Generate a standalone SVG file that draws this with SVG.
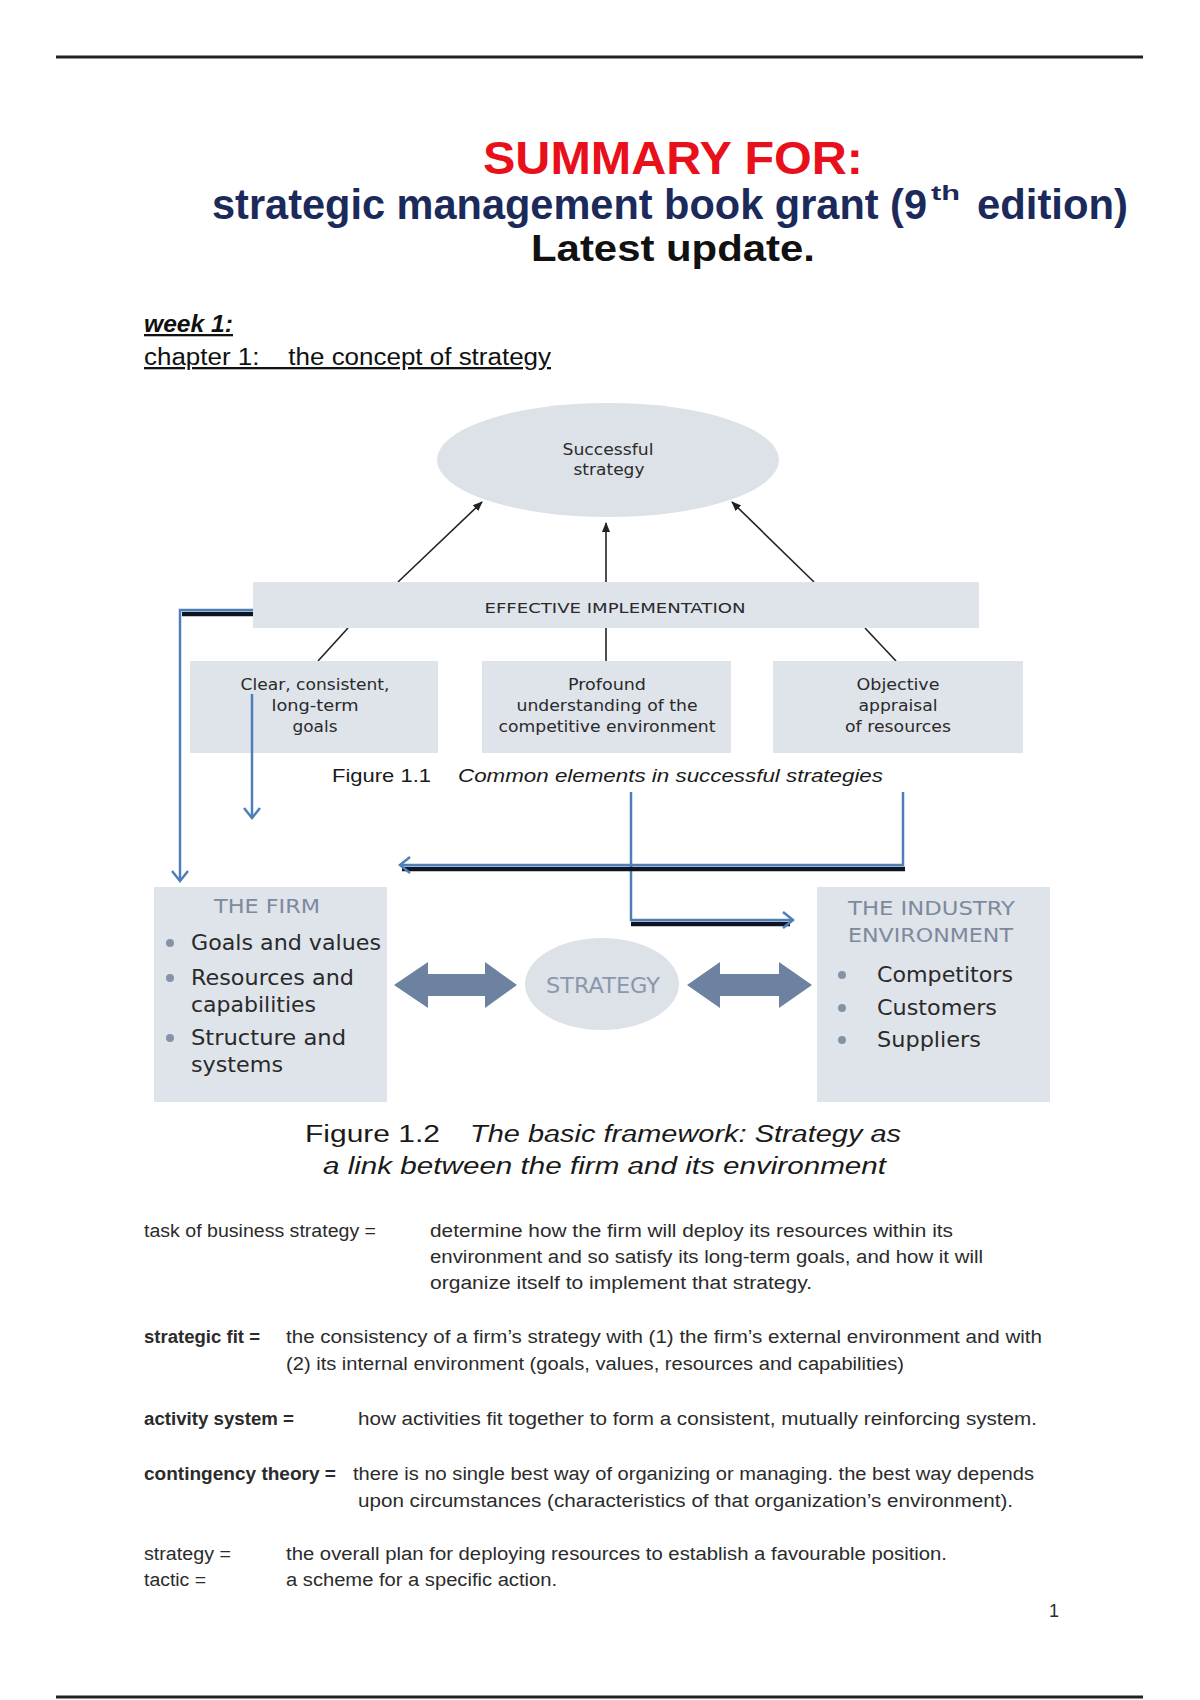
<svg xmlns="http://www.w3.org/2000/svg" width="1200" height="1700" viewBox="0 0 1200 1700">
<defs>
<style>
.hdr{font-family:"Liberation Sans",Arial,sans-serif;font-weight:bold}
.fig{font-family:"DejaVu Sans",Verdana,sans-serif;fill:#2a2a2a}
.cap{font-family:"Liberation Sans",Arial,sans-serif;fill:#1a1a1a}
.body{font-family:"Liberation Sans",Arial,sans-serif;font-size:18px;fill:#2b2b2b}
.box{fill:#dfe3ea}
.blk{stroke:#222;stroke-width:1.6;fill:none}
.blue{stroke:#4f7fb8;stroke-width:2.5;fill:none}
.dark{stroke:#0e1424;stroke-width:4.5;fill:none}
.dbl{fill:#6c82a0}
.bul{fill:#8593a8}
.gry{fill:#7d8a9d}
</style>
<marker id="ah" viewBox="0 0 10 10" refX="9" refY="5" markerWidth="10" markerHeight="10" markerUnits="userSpaceOnUse" orient="auto">
<path d="M0,1 L10,5 L0,9 Z" fill="#222"/>
</marker>
<marker id="va" viewBox="-12 -10 14 20" refX="0" refY="0" markerWidth="14" markerHeight="20" markerUnits="userSpaceOnUse" orient="auto">
<path d="M-10,-8 L0,0 L-10,8" fill="none" stroke="#4f7fb8" stroke-width="2.5"/>
</marker>
</defs>
<rect width="1200" height="1700" fill="#ffffff"/>
<line x1="56" y1="57" x2="1143" y2="57" stroke="#222" stroke-width="3"/>
<line x1="56" y1="1697" x2="1143" y2="1697" stroke="#222" stroke-width="3"/>

<g id="header">
<text class="hdr" x="673" y="174" font-size="46" fill="#e8101a" text-anchor="middle" textLength="380" lengthAdjust="spacingAndGlyphs">SUMMARY FOR:</text>
<text class="hdr" font-size="42" fill="#1b2a5a"><tspan x="212" y="219" textLength="715" lengthAdjust="spacingAndGlyphs">strategic management book grant (9</tspan><tspan x="931" y="200" font-size="20" textLength="29" lengthAdjust="spacingAndGlyphs">th</tspan><tspan x="977" y="219" textLength="151" lengthAdjust="spacingAndGlyphs">edition)</tspan></text>
<text class="hdr" x="673" y="261" font-size="37" fill="#111" text-anchor="middle" textLength="284" lengthAdjust="spacingAndGlyphs">Latest update.</text>
<text x="144" y="332" font-family="Liberation Sans, Arial, sans-serif" font-size="23" font-weight="bold" font-style="italic" fill="#111" text-decoration="underline" textLength="89" lengthAdjust="spacingAndGlyphs">week 1:</text>
<text x="144" y="365" font-family="Liberation Sans, Arial, sans-serif" font-size="23" fill="#111" text-decoration="underline" textLength="407" lengthAdjust="spacingAndGlyphs" xml:space="preserve">chapter 1:    the concept of strategy</text>
</g>

<g id="connectors">
<line class="blk" x1="398" y1="582" x2="482" y2="502" marker-end="url(#ah)"/>
<line class="blk" x1="606" y1="582" x2="606" y2="523" marker-end="url(#ah)"/>
<line class="blk" x1="814" y1="582" x2="732" y2="502" marker-end="url(#ah)"/>
<line class="blk" x1="348" y1="628" x2="318" y2="661"/>
<line class="blk" x1="606" y1="628" x2="606" y2="661"/>
<line class="blk" x1="865" y1="628" x2="896" y2="661"/>
</g>

<g id="successful-strategy">
<ellipse cx="608" cy="460" rx="171" ry="57" fill="#dde1e8"/>
<text class="fig" x="608" y="455" font-size="15" text-anchor="middle" textLength="91" lengthAdjust="spacingAndGlyphs">Successful</text>
<text class="fig" x="609" y="475" font-size="15" text-anchor="middle" textLength="71" lengthAdjust="spacingAndGlyphs">strategy</text>
</g>

<g id="effective-implementation">
<rect class="box" x="253" y="582" width="726" height="46"/>
<text class="fig" x="615" y="613" font-size="14" text-anchor="middle" textLength="261" lengthAdjust="spacingAndGlyphs">EFFECTIVE IMPLEMENTATION</text>
</g>

<g id="goals">
<rect class="box" x="190" y="661" width="248" height="92"/>
<text class="fig" x="315" y="690" font-size="15.5" text-anchor="middle" textLength="149" lengthAdjust="spacingAndGlyphs">Clear, consistent,</text>
<text class="fig" x="315" y="711" font-size="15.5" text-anchor="middle" textLength="87" lengthAdjust="spacingAndGlyphs">long-term</text>
<text class="fig" x="315" y="732" font-size="15.5" text-anchor="middle" textLength="45" lengthAdjust="spacingAndGlyphs">goals</text>
</g>

<g id="understanding">
<rect class="box" x="482" y="661" width="249" height="92"/>
<text class="fig" x="607" y="690" font-size="15.5" text-anchor="middle" textLength="78" lengthAdjust="spacingAndGlyphs">Profound</text>
<text class="fig" x="607" y="711" font-size="15.5" text-anchor="middle" textLength="181" lengthAdjust="spacingAndGlyphs">understanding of the</text>
<text class="fig" x="607" y="732" font-size="15.5" text-anchor="middle" textLength="217" lengthAdjust="spacingAndGlyphs">competitive environment</text>
</g>

<g id="appraisal">
<rect class="box" x="773" y="661" width="250" height="92"/>
<text class="fig" x="898" y="690" font-size="15.5" text-anchor="middle" textLength="83" lengthAdjust="spacingAndGlyphs">Objective</text>
<text class="fig" x="898" y="711" font-size="15.5" text-anchor="middle" textLength="79" lengthAdjust="spacingAndGlyphs">appraisal</text>
<text class="fig" x="898" y="732" font-size="15.5" text-anchor="middle" textLength="106" lengthAdjust="spacingAndGlyphs">of resources</text>
</g>

<g id="figure-1-1-caption">
<text class="cap" x="332" y="782" font-size="18.5" textLength="99" lengthAdjust="spacingAndGlyphs">Figure 1.1</text>
<text class="cap" x="458" y="782" font-size="18.5" font-style="italic" textLength="425" lengthAdjust="spacingAndGlyphs">Common elements in successful strategies</text>
</g>

<g id="blue-connectors">
<path class="dark" d="M182,614 H253"/>
<path class="blue" d="M253,610 H180 V881" marker-end="url(#va)"/>
<path class="blue" d="M252,694 V818" marker-end="url(#va)"/>
<path class="dark" d="M631,924 H790"/>
<path class="blue" d="M631,792 V920 H793" marker-end="url(#va)"/>
<path class="dark" d="M402,869 H905"/>
<path class="blue" d="M903,792 V865 H400" marker-end="url(#va)"/>
</g>

<g id="the-firm">
<rect class="box" x="154" y="887" width="233" height="215"/>
<text class="fig gry" x="267" y="913" font-size="20" text-anchor="middle" textLength="106" lengthAdjust="spacingAndGlyphs">THE FIRM</text>
<circle class="bul" cx="170" cy="943" r="4"/>
<text class="fig" x="191" y="950" font-size="20.5" textLength="190" lengthAdjust="spacingAndGlyphs">Goals and values</text>
<circle class="bul" cx="170" cy="978" r="4"/>
<text class="fig" x="191" y="985" font-size="20.5" textLength="163" lengthAdjust="spacingAndGlyphs">Resources and</text>
<text class="fig" x="191" y="1012" font-size="20.5" textLength="125" lengthAdjust="spacingAndGlyphs">capabilities</text>
<circle class="bul" cx="170" cy="1038" r="4"/>
<text class="fig" x="191" y="1045" font-size="20.5" textLength="155" lengthAdjust="spacingAndGlyphs">Structure and</text>
<text class="fig" x="191" y="1072" font-size="20.5" textLength="92" lengthAdjust="spacingAndGlyphs">systems</text>
</g>

<g id="strategy">
<ellipse cx="602" cy="984" rx="77" ry="46" fill="#dde1e8"/>
<text class="fig" x="603" y="993" font-size="21" style="fill:#8a98ad" text-anchor="middle" textLength="114" lengthAdjust="spacingAndGlyphs">STRATEGY</text>
</g>

<g id="double-arrows">
<polygon class="dbl" points="394,985 428,962 428,974 485,974 485,962 517,985 485,1008 485,996 428,996 428,1008"/>
<polygon class="dbl" points="687,985 720,962 720,974 779,974 779,962 812,985 779,1008 779,996 720,996 720,1008"/>
</g>

<g id="industry-environment">
<rect class="box" x="817" y="887" width="233" height="215"/>
<text class="fig gry" x="848" y="915" font-size="20" textLength="167" lengthAdjust="spacingAndGlyphs">THE INDUSTRY</text>
<text class="fig gry" x="848" y="942" font-size="20" textLength="165" lengthAdjust="spacingAndGlyphs">ENVIRONMENT</text>
<circle class="bul" cx="842" cy="975" r="4"/>
<text class="fig" x="877" y="982" font-size="20.5" textLength="136" lengthAdjust="spacingAndGlyphs">Competitors</text>
<circle class="bul" cx="842" cy="1008" r="4"/>
<text class="fig" x="877" y="1015" font-size="20.5" textLength="120" lengthAdjust="spacingAndGlyphs">Customers</text>
<circle class="bul" cx="842" cy="1040" r="4"/>
<text class="fig" x="877" y="1047" font-size="20.5" textLength="104" lengthAdjust="spacingAndGlyphs">Suppliers</text>
</g>

<g id="figure-1-2-caption">
<text class="cap" x="305" y="1142" font-size="23.5" textLength="135" lengthAdjust="spacingAndGlyphs">Figure 1.2</text>
<text class="cap" x="470" y="1142" font-size="23.5" font-style="italic" textLength="431" lengthAdjust="spacingAndGlyphs">The basic framework: Strategy as</text>
<text class="cap" x="323" y="1174" font-size="23.5" font-style="italic" textLength="563" lengthAdjust="spacingAndGlyphs">a link between the firm and its environment</text>
</g>

<g id="definitions">
<text class="body" x="144" y="1237" textLength="232" lengthAdjust="spacingAndGlyphs">task of business strategy =</text>
<text class="body" x="430" y="1237" textLength="523" lengthAdjust="spacingAndGlyphs">determine how the firm will deploy its resources within its</text>
<text class="body" x="430" y="1263" textLength="553" lengthAdjust="spacingAndGlyphs">environment and so satisfy its long-term goals, and how it will</text>
<text class="body" x="430" y="1289" textLength="382" lengthAdjust="spacingAndGlyphs">organize itself to implement that strategy.</text>

<text class="body" x="144" y="1343" font-weight="bold" textLength="116" lengthAdjust="spacingAndGlyphs">strategic fit =</text>
<text class="body" x="286" y="1343" textLength="756" lengthAdjust="spacingAndGlyphs">the consistency of a firm’s strategy with (1) the firm’s external environment and with</text>
<text class="body" x="286" y="1370" textLength="618" lengthAdjust="spacingAndGlyphs">(2) its internal environment (goals, values, resources and capabilities)</text>

<text class="body" x="144" y="1425" font-weight="bold" textLength="150" lengthAdjust="spacingAndGlyphs">activity system =</text>
<text class="body" x="358" y="1425" textLength="679" lengthAdjust="spacingAndGlyphs">how activities fit together to form a consistent, mutually reinforcing system.</text>

<text class="body" x="144" y="1480" font-weight="bold" textLength="192" lengthAdjust="spacingAndGlyphs">contingency theory =</text>
<text class="body" x="353" y="1480" textLength="681" lengthAdjust="spacingAndGlyphs">there is no single best way of organizing or managing. the best way depends</text>
<text class="body" x="358" y="1507" textLength="655" lengthAdjust="spacingAndGlyphs">upon circumstances (characteristics of that organization’s environment).</text>

<text class="body" x="144" y="1560" textLength="87" lengthAdjust="spacingAndGlyphs">strategy =</text>
<text class="body" x="286" y="1560" textLength="661" lengthAdjust="spacingAndGlyphs">the overall plan for deploying resources to establish a favourable position.</text>
<text class="body" x="144" y="1586" textLength="62" lengthAdjust="spacingAndGlyphs">tactic =</text>
<text class="body" x="286" y="1586" textLength="271" lengthAdjust="spacingAndGlyphs">a scheme for a specific action.</text>

<text class="body" x="1049" y="1617" font-size="15">1</text>
</g>
</svg>
